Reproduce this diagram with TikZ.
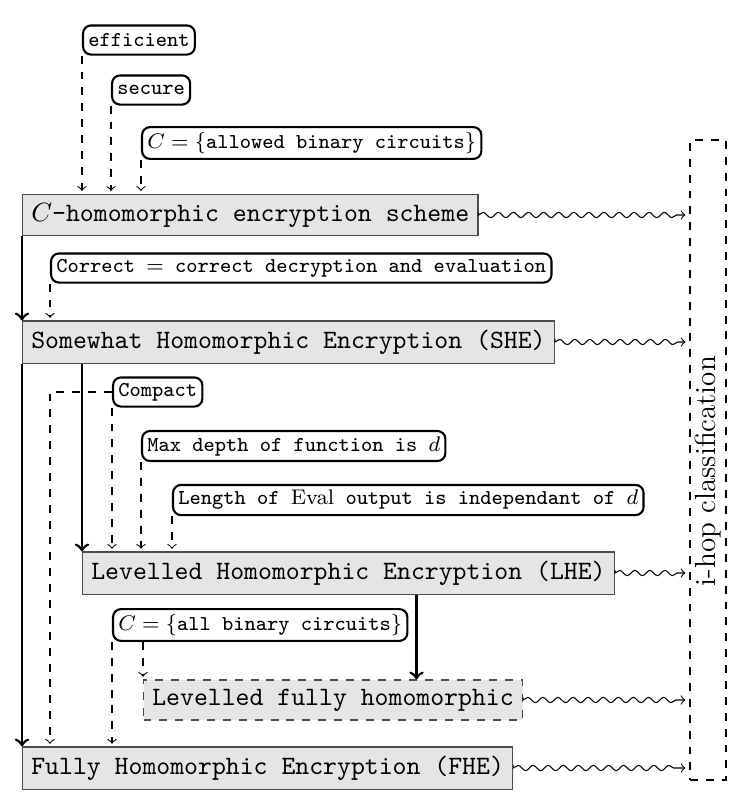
\documentclass[tikz,border=0pt]{standalone}
\usetikzlibrary{decorations.pathmorphing,fit,calc}
\begin{document}
\begin{tikzpicture}[x=0.3777pt,y=-0.3777pt,
  mainbox/.style={draw=black!70, fill=gray!20, font=\ttfamily, anchor=west, inner sep=3.33pt},
  lbl/.style={draw, thick, rounded corners=3pt, font=\ttfamily\footnotesize, anchor=west, inner sep=2pt, minimum height=11pt},
  dep/.style={dashed, ->, shorten >=1pt},
  strong/.style={->, line width=1pt},
  wave/.style={->, shorten <=1pt, shorten >=1.5pt, decorate, decoration={snake, amplitude=1pt, segment length=5.7pt, post length=1.2mm}}]
\useasboundingbox (0,0) rectangle (745,807);

% labels
\node[lbl] (eff) at (82,40) {efficient};
\node[lbl] (sec) at (111,90) {secure};
\node[lbl] (cal) at (141,143) {$C=\{$allowed binary circuits$\}$};
\node[lbl] (cor) at (50,268) {Correct $=$ correct decryption and evaluation};
\node[lbl] (cmp) at (112,392) {Compact};
\node[lbl] (mdp) at (141,446) {Max depth of function is $d$};
\node[lbl] (len) at (172,500) {Length of $\mathrm{Eval}$ output is independant of $d$};
\node[lbl] (cab) at (112,625) {$C=\{$all binary circuits$\}$};

% main boxes
\node[mainbox] (chom) at (22,215) {$C$-homomorphic encryption scheme};
\node[mainbox] (she) at (22,342) {Somewhat Homomorphic Encryption (SHE)};
\node[mainbox] (lhe) at (82,573) {Levelled Homomorphic Encryption (LHE)};
\node[mainbox, dashed] (lfh) at (143,700) {Levelled fully homomorphic};
\node[mainbox] (fhe) at (22,768) {Fully Homomorphic Encryption (FHE)};

% i-hop box
\node[fit={(690,140) (726,780)}, inner sep=0pt, draw, dashed] (ihop) {};
\node[rotate=90, font=\fontsize{11}{13}\selectfont] (ihopt) at (708,471) {i-hop classification};

% dashed requirement arrows
\draw[dep] (eff.south west) -- (eff.south west |- chom.north);
\draw[dep] (sec.south west) -- (sec.south west |- chom.north);
\draw[dep] (cal.south west) -- (cal.south west |- chom.north);
\draw[dep] (cor.south west) -- (cor.south west |- she.north);
\draw[dep] (cmp.west) -| (fhe.north -| cor.west);
\draw[dep] (cmp.south west) -- (cmp.south west |- lhe.north);
\draw[dep] (mdp.south west) -- (mdp.south west |- lhe.north);
\draw[dep] (len.south west) -- (len.south west |- lhe.north);
\draw[dep] (cab.south west) -- (cab.south west |- fhe.north);
\draw[dep] (cab.south -| lfh.west) -- (lfh.north west);

% strong arrows
\draw[strong] (chom.south west) -- (she.north west);
\draw[strong] (she.south west) -- (fhe.north west);
\draw[strong] (lhe.north west |- she.south) -- (lhe.north west);
\path (lhe.south) ++(68,0) coordinate (lk);
\draw[strong] (lk) -- (lk |- lfh.north);

% wavy arrows
\foreach \n in {chom,she,lhe,lfh,fhe}
  \draw[wave] (\n.east) -- (\n.east -| ihop.west);
\end{tikzpicture}
\end{document}
